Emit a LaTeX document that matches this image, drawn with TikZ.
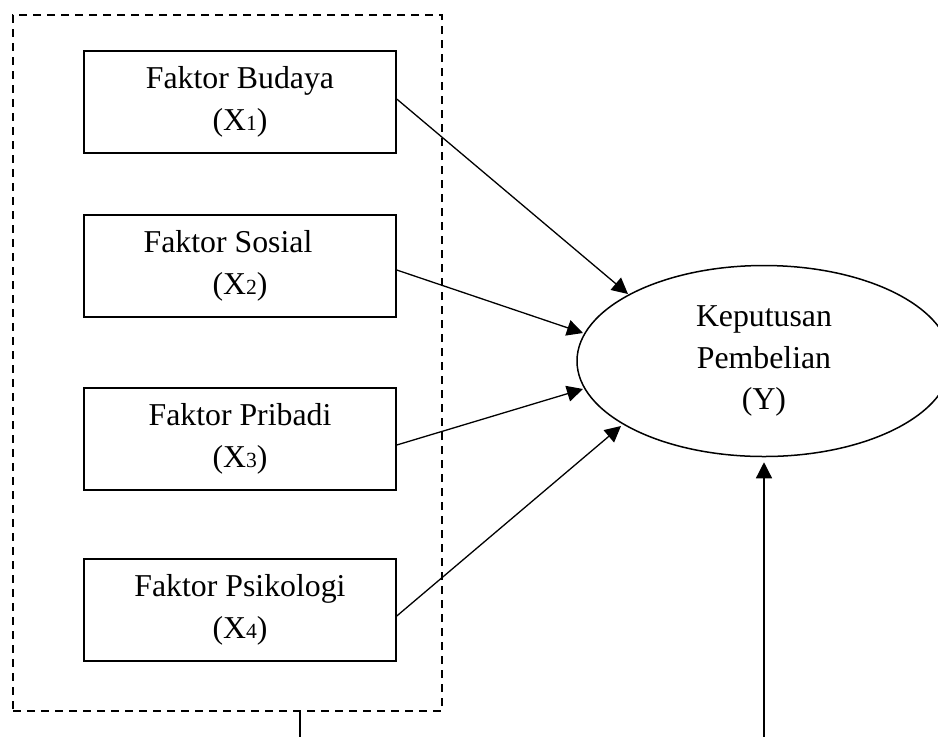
\documentclass[tikz,border=0pt]{standalone}
\usepackage{fontspec}
\setmainfont{Liberation Serif}
\usetikzlibrary{shapes.geometric,arrows.meta,calc}
\newcommand\sbs[1]{{\fontsize{10.8pt}{12pt}\selectfont #1}}
\begin{document}
\begin{tikzpicture}[x=0.5pt,y=-0.5pt,
  every node/.style={font=\fontsize{15.9pt}{20.8pt}\selectfont},
  factor/.style={draw,line width=0.75pt,minimum width=156pt,minimum height=51pt,inner sep=0pt,align=center},
  target/.style={draw,ellipse,line width=0.75pt,minimum width=187pt,minimum height=95.5pt,inner sep=0pt,align=center},
  group/.style={draw,line width=0.65pt,dash pattern=on 4pt off 3pt,minimum width=214.5pt,minimum height=348pt,inner sep=0pt},
  arr/.style={line width=0.65pt,-{Triangle[length=8pt,width=8pt]}}]
\useasboundingbox (0,0) rectangle (938,736);
\clip (0,0) rectangle (938,736);
\fill[white] (0,0) rectangle (938,736);
\node[group] (grp) at (227.5,363) {};
\node[factor] (b1) at (240,102) {Faktor Budaya\\(X\sbs{1})};
\node[factor] (b2) at (240,266) {Faktor Sosial\hspace*{12pt}\\(X\sbs{2})};
\node[factor] (b3) at (240,439) {Faktor Pribadi\\(X\sbs{3})};
\node[factor] (b4) at (240,610) {Faktor Psikologi\\(X\sbs{4})};
\node[target] (Y) at (764,361) {Keputusan\\Pembelian\\(Y)};
\coordinate (t1) at (628,294);
\coordinate (t2) at (583,333);
\coordinate (t3) at (583,389);
\coordinate (t4) at (621,426);
\coordinate (c1) at (300,770);
\draw[arr] ([yshift=1.5pt]b1.east) -- (t1);
\draw[arr] ([yshift=-2pt]b2.east) -- (t2);
\draw[arr] ([yshift=-3pt]b3.east) -- (t3);
\draw[arr] ([yshift=-3pt]b4.east) -- (t4);
\draw[arr] (grp.south -| c1) -- (c1) -- (c1 -| Y.south) -- ([yshift=-2.5pt]Y.south);
\end{tikzpicture}
\end{document}
